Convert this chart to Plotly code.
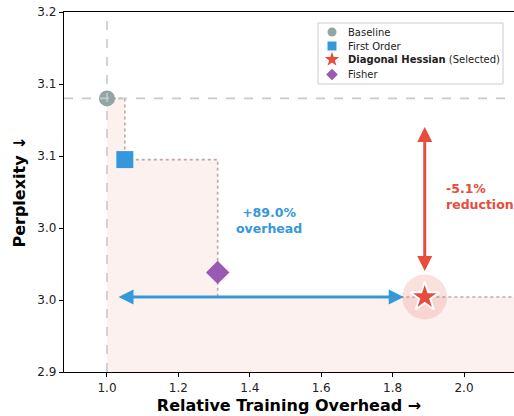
import plotly.graph_objects as go

# ---- data ----
methods = ["Baseline", "First Order", "Diagonal Hessian", "Fisher"]
legend_names = ["Baseline", "First Order", "<b>Diagonal Hessian</b> (Selected)", "Fisher"]
overhead = [1.00, 1.05, 1.89, 1.31]
perplexity = [3.128, 3.077, 2.9625, 2.983]
colors = ["#95a5a6", "#3498db", "#e74c3c", "#9b59b6"]
symbols = ["circle", "square", "star", "diamond"]
sizes = [16, 17, 22, 18]
legend_sizes = [9, 9, 11, 9]

y_tickvals = [2.90, 2.96, 3.02, 3.08, 3.14, 3.20]
y_ticktext = [f"{v:.1f}" for v in y_tickvals]
x_tickvals = [1.0, 1.2, 1.4, 1.6, 1.8, 2.0]
x_ticktext = [f"{v:.1f}" for v in x_tickvals]
x_range = [0.8796, 2.140]
y_range = [2.90, 3.20]

overhead_text = "+89.0%<br>overhead"
reduction_text = "-5.1%<br>reduction"

# legend layout (in plot-area pixels, origin top-left)
PW, PH = 450, 360
leg_box = dict(x0=254, x1=439, y0=11, y1=72)
leg_marker_x = 268
leg_text_x = 282
leg_rows = [20, 34, 47.5, 62.5]

b, fo, dh, fi = 0, 1, 2, 3

fig = go.Figure()

# pareto staircase fill
stair_x = [overhead[b], overhead[fo], overhead[fi], x_range[1] + 0.1]
stair_y = [perplexity[b], perplexity[fo], perplexity[dh], perplexity[dh]]
fig.add_trace(go.Scatter(
    x=stair_x, y=stair_y, mode="lines", line_shape="hv",
    line=dict(color="rgba(170,140,140,0.75)", width=1.6, dash="dot"),
    fill="tozeroy", fillcolor="rgba(231,76,60,0.08)",
    showlegend=False, hoverinfo="skip"))

# baseline reference lines
fig.add_shape(type="line", xref="x", yref="paper", x0=overhead[b], x1=overhead[b], y0=0, y1=1,
              line=dict(color="#c5cbcd", width=1.6, dash="dash"), layer="above")
fig.add_shape(type="line", xref="paper", yref="y", x0=0, x1=1, y0=perplexity[b], y1=perplexity[b],
              line=dict(color="#c5cbcd", width=1.6, dash="dash"), layer="above")

# halo behind selected
fig.add_trace(go.Scatter(
    x=[overhead[dh]], y=[perplexity[dh]], mode="markers",
    marker=dict(size=45, color="rgba(231,76,60,0.17)", line=dict(width=0)),
    showlegend=False, hoverinfo="skip"))

for i in range(4):
    fig.add_trace(go.Scatter(
        x=[overhead[i]], y=[perplexity[i]], mode="markers", name=methods[i],
        showlegend=False,
        marker=dict(symbol=symbols[i], size=sizes[i], color=colors[i],
                    line=dict(color="white", width=2 if i == dh else 0))))

# custom legend on an overlay axis (pixel units of the plot area)
fig.add_trace(go.Scatter(
    x=[leg_box["x0"], leg_box["x1"], leg_box["x1"], leg_box["x0"], leg_box["x0"]],
    y=[leg_box["y0"], leg_box["y0"], leg_box["y1"], leg_box["y1"], leg_box["y0"]],
    mode="lines", fill="toself", fillcolor="white",
    line=dict(color="#cccccc", width=1), xaxis="x2", yaxis="y2",
    showlegend=False, hoverinfo="skip"))
for i in range(4):
    fig.add_trace(go.Scatter(
        x=[leg_marker_x], y=[leg_rows[i]], mode="markers", xaxis="x2", yaxis="y2",
        marker=dict(symbol=symbols[i], size=legend_sizes[i], color=colors[i], line=dict(width=0)),
        showlegend=False, hoverinfo="skip"))
    fig.add_annotation(x=leg_text_x, y=leg_rows[i], xref="x2", yref="y2", text=legend_names[i],
                       showarrow=False, xanchor="left", yanchor="middle",
                       font=dict(size=10, color="#222"))

# arrows
fig.add_annotation(x=overhead[dh], y=perplexity[dh], ax=overhead[b], ay=perplexity[dh],
                   xref="x", yref="y", axref="x", ayref="y", text="", showarrow=True,
                   arrowhead=2, startarrowhead=2, arrowside="end+start", arrowsize=1,
                   arrowwidth=3, arrowcolor="#3498db", standoff=21, startstandoff=10)
fig.add_annotation(x=overhead[dh], y=perplexity[dh], ax=overhead[dh], ay=perplexity[b],
                   xref="x", yref="y", axref="x", ayref="y", text="", showarrow=True,
                   arrowhead=2, startarrowhead=2, arrowside="end+start", arrowsize=1,
                   arrowwidth=3, arrowcolor="#e74c3c", standoff=26, startstandoff=27)

fig.add_annotation(x=1.455, y=3.026, text=f"<b>{overhead_text}</b>", showarrow=False,
                   font=dict(color="#3498db", size=12.5), align="center")
fig.add_annotation(x=1.943, y=3.046, text=f"<b>{reduction_text}</b>", showarrow=False,
                   xanchor="left", font=dict(color="#e74c3c", size=12.5), align="left")

fig.update_layout(
    width=514, height=416,
    margin=dict(l=64, r=0, t=12, b=44),
    plot_bgcolor="white", paper_bgcolor="white",
    font=dict(family="DejaVu Sans", color="#222"),
    showlegend=False,
    xaxis2=dict(overlaying="x", range=[0, PW], visible=False, fixedrange=True),
    yaxis2=dict(overlaying="y", range=[PH, 0], visible=False, fixedrange=True),
    xaxis=dict(range=x_range, tickvals=x_tickvals, ticktext=x_ticktext,
               showgrid=False, zeroline=False, showline=True, linecolor="black",
               linewidth=1.3, mirror=True, ticks="outside", ticklen=4, tickcolor="black",
               tickfont=dict(size=12, color="#222"), ticklabeloverflow="allow",
               title=dict(text="<b>Relative Training Overhead →</b>", font=dict(size=16, color="black"),
                          standoff=6)),
    yaxis=dict(range=y_range, tickvals=y_tickvals, ticktext=y_ticktext,
               showgrid=False, zeroline=False, showline=True, linecolor="black",
               linewidth=1.3, mirror=False, ticks="outside", ticklen=4, tickcolor="black",
               tickfont=dict(size=12, color="#222"), ticklabeloverflow="allow",
               title=dict(text="<b>Perplexity ↓</b>", font=dict(size=16, color="black"),
                          standoff=7)),
)

fig.write_html("out.html", config={"displayModeBar": False},
               post_script="document.body.style.margin='0px';")
